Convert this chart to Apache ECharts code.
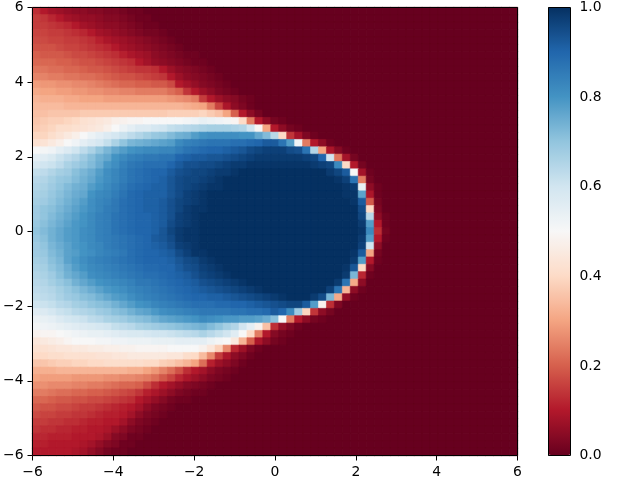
<!DOCTYPE html>
<html><head><meta charset="utf-8">
<style>html,body{margin:0;padding:0;background:#fff}#c{width:640px;height:480px}</style>
<script src="https://cdn.jsdelivr.net/npm/echarts@6/dist/echarts.min.js"></script>
</head><body><div id="c"></div>
<script>
// Cell values in percent, one list per image row from the top (y = +6) down; trailing zeros omitted.
const rowsPct = [
[13,10,8,7,6,5,5,4,4,3,3,2,1,1],
[15,14,12,10,8,7,6,6,5,4,4,3,2,1,1],
[15,15,14,13,12,10,8,7,6,5,5,4,3,2,1,1],
[16,16,15,15,14,13,12,10,8,7,6,5,4,3,2,2,1],
[17,17,16,16,15,15,14,13,11,9,8,7,6,5,4,3,2,1],
[18,18,18,17,16,16,15,14,13,12,10,8,7,6,5,4,3,2,1],
[20,19,19,19,18,17,17,16,15,14,13,11,9,8,7,5,4,3,2,1,1],
[21,21,21,20,20,19,18,18,17,16,15,14,13,10,8,6,5,4,3,2,1,1],
[23,23,22,22,21,21,20,19,19,18,17,16,15,14,14,13,10,7,5,4,3,2,1],
[25,25,24,24,23,23,22,22,21,20,19,18,18,17,16,15,14,10,7,5,4,3,2,1],
[29,28,28,27,27,26,26,25,24,23,22,21,21,20,20,19,19,17,10,8,6,4,3,2,1],
[31,30,30,29,29,28,28,27,27,26,26,25,25,24,24,24,24,22,20,14,10,7,5,3,2,1],
[33,32,32,32,31,31,30,30,30,29,29,29,29,29,29,29,29,28,27,26,24,15,10,7,5,4,2,1],
[34,34,34,34,33,33,33,33,33,33,33,33,33,33,33,33,33,33,33,32,31,30,24,16,9,5,3,1],
[35,35,36,36,36,36,37,37,37,37,37,37,37,37,37,37,37,38,38,38,38,39,37,35,30,20,10,5,2],
[36,37,38,38,39,40,42,43,44,45,47,48,49,49,50,50,50,50,50,51,52,54,53,52,51,49,40,24,10,5,2,1],
[37,38,39,41,41,42,43,44,45,47,50,53,55,57,57,59,60,62,63,64,65,66,67,67,67,66,65,60,49,30,10,5,2,1],
[39,39,41,43,45,47,50,53,55,57,59,61,63,65,67,69,70,72,74,75,78,80,81,81,81,81,80,80,76,72,64,40,14,8,3,1],
[42,43,45,47,50,52,55,57,59,62,66,70,73,74,75,76,77,78,82,84,85,86,87,87,87,88,88,89,90,92,92,87,78,52,24,10,5,1],
[50,51,52,55,57,60,63,66,70,73,76,78,80,81,82,82,83,83,85,87,88,89,90,90,91,92,93,95,96,97,97,97,95,94,87,65,30,9,4,1],
[55,56,58,61,63,65,68,71,74,76,80,82,84,85,86,86,87,87,90,91,92,92,93,93,94,95,96,97,98,98,98,98,98,98,97,96,90,60,23,8,2],
[58,60,61,63,66,68,70,72,75,79,81,84,86,87,88,88,88,90,92,94,94,95,95,96,97,98,98,99,99,99,99,99,99,99,99,98,97,96,82,40,10,2],
[62,63,65,67,68,71,73,75,78,81,83,85,87,88,89,90,90,92,94,95,96,96,97,98,98,99,100,100,100,100,100,100,100,100,100,100,100,98,96,92,50,8,1],
[64,65,67,69,70,72,74,76,79,81,83,85,87,88,89,90,91,93,95,96,96,97,98,99,100,100,100,100,100,100,100,100,100,100,100,100,100,100,99,97,87,24,2],
[65,66,68,70,72,74,75,78,80,82,84,86,88,89,90,91,91,93,95,96,97,98,99,99,100,100,100,100,100,100,100,100,100,100,100,100,100,100,100,99,98,54,5,1],
[66,67,69,71,73,75,76,80,82,83,85,87,89,90,91,91,91,93,95,97,98,99,100,100,100,100,100,100,100,100,100,100,100,100,100,100,100,100,100,99,99,77,9,1],
[67,68,70,72,74,76,78,81,83,84,86,88,89,90,91,91,92,94,96,97,98,99,100,100,100,100,100,100,100,100,100,100,100,100,100,100,100,100,100,100,99,92,19,2],
[68,70,71,73,75,77,79,81,83,85,86,88,89,90,91,91,92,94,96,98,99,99,100,100,100,100,100,100,100,100,100,100,100,100,100,100,100,100,100,100,100,95,40,3],
[68,70,72,74,76,78,80,82,84,85,87,88,89,90,90,91,92,94,97,98,99,100,100,100,100,100,100,100,100,100,100,100,100,100,100,100,100,100,100,100,100,96,64,5,1],
[69,71,73,75,77,79,80,82,84,85,87,88,89,90,90,91,92,95,97,98,99,100,100,100,100,100,100,100,100,100,100,100,100,100,100,100,100,100,100,100,100,98,78,10,1],
[70,72,74,76,78,79,81,82,84,85,87,88,89,90,90,91,93,96,98,99,99,100,100,100,100,100,100,100,100,100,100,100,100,100,100,100,100,100,100,100,100,99,82,13,2],
[69,71,74,76,78,79,81,82,84,85,86,87,88,89,90,92,93,95,98,99,99,100,100,100,100,100,100,100,100,100,100,100,100,100,100,100,100,100,100,100,100,98,78,10,1],
[68,70,73,75,77,79,80,82,83,85,86,87,88,89,90,91,92,94,97,98,99,100,100,100,100,100,100,100,100,100,100,100,100,100,100,100,100,100,100,100,100,97,60,5],
[68,69,72,74,77,78,80,81,83,84,85,86,88,89,90,90,91,92,95,97,99,99,100,100,100,100,100,100,100,100,100,100,100,100,100,100,100,100,100,100,99,92,30,2],
[67,68,71,73,77,79,81,83,84,85,86,87,88,89,90,90,90,91,93,95,96,98,99,100,100,100,100,100,100,100,100,100,100,100,100,100,100,100,100,100,98,78,10,1],
[66,67,70,72,75,78,80,82,83,84,85,86,87,88,89,89,90,90,92,94,95,97,98,99,100,100,100,100,100,100,100,100,100,100,100,100,100,100,100,99,93,40,4],
[65,66,68,71,74,76,78,81,82,83,84,85,86,87,88,88,89,90,91,92,94,96,97,98,99,100,100,100,100,100,100,100,100,100,100,100,100,100,100,98,73,12,1],
[64,65,67,69,71,74,76,78,80,81,82,83,84,86,86,87,88,89,90,91,92,94,95,96,97,98,99,100,100,100,100,100,100,100,100,100,100,100,98,87,31,5],
[63,64,65,67,69,71,73,75,77,79,80,81,83,84,85,86,87,88,89,90,91,92,93,94,95,96,97,98,99,100,100,100,100,100,100,100,100,97,87,33,5,1],
[62,63,64,66,68,69,71,72,74,76,78,79,81,83,84,85,86,87,88,89,90,90,91,91,92,93,94,95,96,97,98,99,100,100,100,98,95,73,31,6,1],
[60,61,62,64,65,67,68,70,71,72,74,76,78,80,81,83,84,85,86,87,88,88,88,89,89,90,90,91,92,93,94,95,96,96,92,78,48,13,3],
[56,57,59,61,62,64,65,66,68,69,71,72,74,76,77,79,81,82,83,84,85,86,86,86,86,87,87,88,88,89,92,90,82,68,39,14,5,2],
[53,54,55,57,59,60,61,63,64,66,67,68,70,71,72,74,76,77,78,79,80,82,81,80,79,79,78,78,77,75,71,50,24,10,5,2,1],
[51,52,53,54,55,56,57,58,59,60,62,63,64,66,67,68,69,70,71,72,73,74,72,70,67,65,60,55,48,35,13,6,3,1],
[48,49,49,50,51,52,53,54,54,55,56,57,58,58,59,60,60,61,62,63,64,66,64,62,60,56,50,40,24,10,4,2,1],
[44,45,46,47,49,50,50,50,51,51,52,52,53,53,53,54,54,54,55,55,55,55,53,51,50,45,33,20,9,5,2,1],
[42,42,43,44,44,45,45,46,46,47,47,48,48,49,49,49,49,50,50,50,50,48,44,38,26,12,7,3,1],
[40,40,41,41,42,42,42,42,43,43,44,44,45,45,45,45,45,44,44,41,40,34,26,15,9,5,3,1],
[36,36,37,38,38,39,39,40,40,41,41,41,41,41,40,40,38,37,35,33,30,22,11,7,5,3,1],
[32,32,32,33,33,33,33,33,33,33,33,33,32,32,30,28,25,22,18,13,10,8,5,3,2,1],
[30,29,29,29,29,28,28,28,28,27,27,26,26,25,24,22,19,16,12,9,7,5,3,2,1],
[27,27,26,26,26,25,25,24,24,23,22,21,21,20,17,13,10,8,6,4,3,2,1],
[24,24,23,22,22,21,21,20,20,19,18,17,16,14,11,9,7,5,3,2,1,1],
[21,21,20,19,19,18,18,17,17,16,15,14,13,10,8,6,4,2,1,1],
[19,18,18,17,17,16,15,15,14,13,12,11,10,8,5,3,2,1],
[17,16,16,15,15,14,14,13,12,11,11,10,8,5,3,2,1],
[15,15,14,14,13,13,12,11,11,10,10,8,5,3,2,1],
[14,13,13,12,12,11,11,10,10,9,7,5,3,2,1],
[12,12,11,11,11,10,10,10,9,7,4,3,1,1],
[11,11,10,10,10,10,9,8,6,4,3,1,1],
[10,10,10,10,10,9,8,6,4,2,1,1]
];
const gridSize = 61;
const xTicks = [-6,-4,-2,0,2,4,6];
const barTicks = ['0.0','0.2','0.4','0.6','0.8','1.0'];
const cmap = ['#67001f','#b2182b','#d6604d','#f4a582','#fddbc7','#f7f7f7','#d1e5f0','#92c5de','#4393c3','#2166ac','#053061'];

const cells = [];
for (let r = 0; r < gridSize; r++) {
  for (let c = 0; c < gridSize; c++) {
    const v = (c < rowsPct[r].length ? rowsPct[r][c] : 0) / 100;
    // a hairline border in the cell's own colour closes the sub-pixel seams between cells
    cells.push({value:[c, gridSize - 1 - r, v], itemStyle:{borderColor:echarts.color.lerp(v, cmap), borderWidth:0.6}});
  }
}
const cats = Array.from({length: gridSize}, (_, i) => String(i));
const font = {color:'#000', fontFamily:'DejaVu Sans', fontSize:13.9};
const minus = v => String(v).replace('-', '\u2212');
const plotAxis = (pos, margin) => ({
  type:'value', gridIndex:0, position:pos, min:xTicks[0], max:xTicks[xTicks.length-1], interval:2,
  splitLine:{show:false}, axisLine:{show:false},
  axisTick:{show:true, length:5, lineStyle:{color:'#000', width:1}},
  axisLabel:Object.assign({margin:margin, formatter:minus, hideOverlap:false, showMinLabel:true, showMaxLabel:true}, font)
});

const chart = echarts.init(document.getElementById('c'), null, {renderer:'canvas'});
chart.setOption({
  animation:false,
  backgroundColor:'#fff',
  grid:[
    {left:32.5, top:7.5, width:485, height:448, show:true, z:10, backgroundColor:'transparent', borderColor:'#000', borderWidth:1},
    {left:548.5, top:7.5, width:22, height:448, show:true, z:10, backgroundColor:'transparent', borderColor:'#000', borderWidth:1}
  ],
  xAxis:[
    {type:'category', gridIndex:0, data:cats, show:false},
    plotAxis('bottom', 10),
    {type:'value', gridIndex:1, min:0, max:1, show:false}
  ],
  yAxis:[
    {type:'category', gridIndex:0, data:cats, show:false},
    plotAxis('left', 9),
    {type:'value', gridIndex:1, position:'right', min:0, max:1, interval:0.2,
      splitLine:{show:false}, axisLine:{show:false},
      axisTick:{show:true, length:5, lineStyle:{color:'#000', width:1}},
      axisLabel:Object.assign({margin:9, formatter:(v)=>barTicks[Math.round(v*5)]}, font)}
  ],
  visualMap:{
    type:'continuous', seriesIndex:0, min:0, max:1, calculable:false, realtime:false,
    left:548, top:7, itemWidth:23, itemHeight:448, padding:0, z:1, hoverLink:false,
    inRange:{color:cmap}, text:null, showLabel:false
  },
  series:[{
    type:'heatmap', xAxisIndex:0, yAxisIndex:0, data:cells, progressive:0, silent:true,
    emphasis:{disabled:true}
  }]
});
</script></body></html>
